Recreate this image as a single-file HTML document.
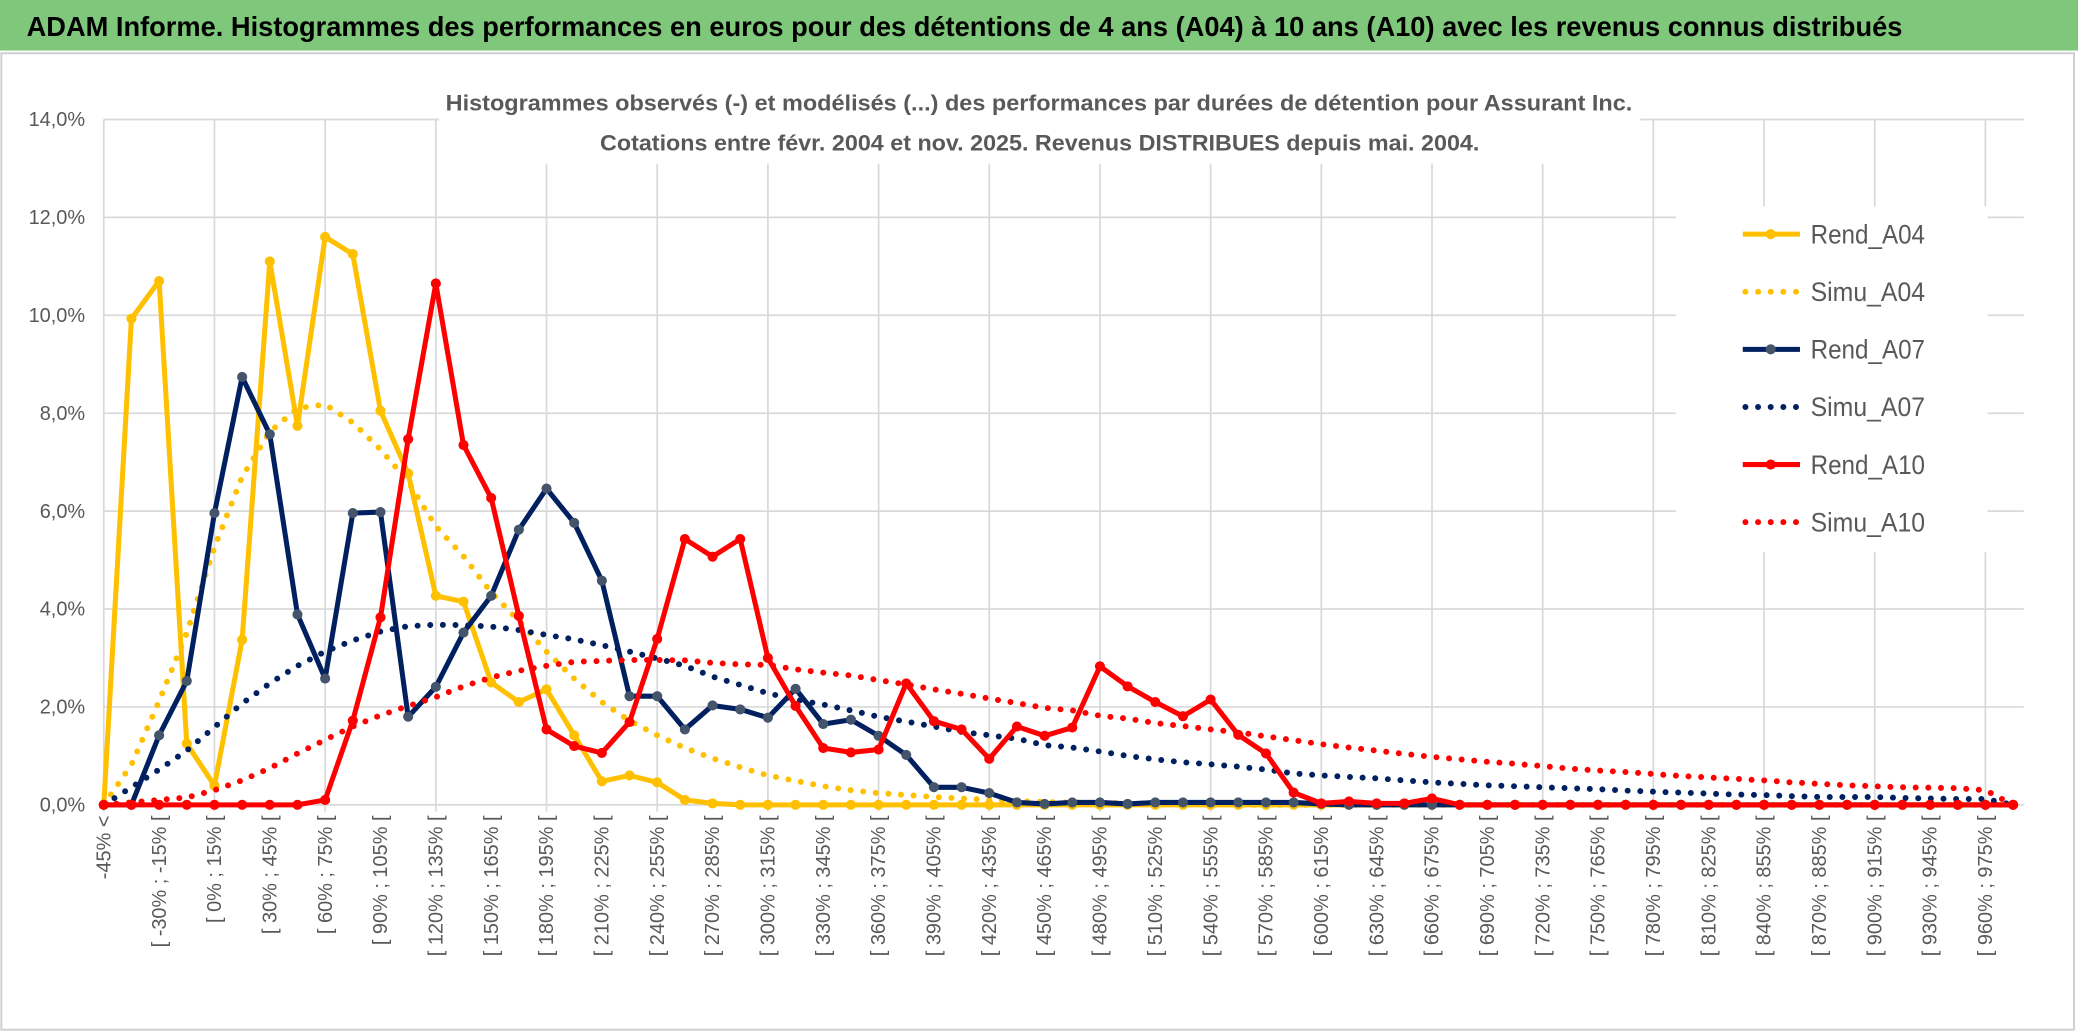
<!DOCTYPE html>
<html><head><meta charset="utf-8"><style>
html,body{margin:0;padding:0;background:#fff;}
svg{display:block;font-family:"Liberation Sans",sans-serif;}
</style></head><body>
<svg id="chart" width="2086" height="1033" viewBox="0 0 1568 776.5" preserveAspectRatio="none" xmlns="http://www.w3.org/2000/svg">
<rect x="0" y="0" width="1568" height="776.5" fill="#fff"/>
<rect x="0" y="0" width="1562" height="38" fill="#7ec77b"/>
<text x="20" y="27" font-size="21" font-weight="bold" fill="#000" textLength="1410" lengthAdjust="spacingAndGlyphs">ADAM Informe. Histogrammes des performances en euros pour des détentions de 4 ans (A04) à 10 ans (A10) avec les revenus connus distribués</text>
<rect x="1" y="40" width="1558" height="734" fill="none" stroke="#d0d0d0" stroke-width="1.5"/>
<g id="grid"></g>
<rect x="330" y="55" width="903" height="68" fill="#fff"/>
<text x="335" y="83" font-size="17" font-weight="bold" fill="#595959" textLength="892" lengthAdjust="spacingAndGlyphs">Histogrammes observés (-) et modélisés (...) des performances par durées de détention pour Assurant Inc.</text>
<text x="451" y="113" font-size="17" font-weight="bold" fill="#595959" textLength="661" lengthAdjust="spacingAndGlyphs">Cotations entre févr. 2004 et nov. 2025. Revenus DISTRIBUES depuis mai. 2004.</text>
<g id="yticks"></g>
<g id="xticks"></g>
<g id="series"></g>
<rect x="1260" y="155" width="234" height="260" fill="#fff"/>
<g id="legend"></g>
</svg>
<script>
const categories = ["-45% <","[ -45% ; -30% [","[ -30% ; -15% [","[ -15% ; 0% [","[ 0% ; 15% [","[ 15% ; 30% [","[ 30% ; 45% [","[ 45% ; 60% [","[ 60% ; 75% [","[ 75% ; 90% [","[ 90% ; 105% [","[ 105% ; 120% [","[ 120% ; 135% [","[ 135% ; 150% [","[ 150% ; 165% [","[ 165% ; 180% [","[ 180% ; 195% [","[ 195% ; 210% [","[ 210% ; 225% [","[ 225% ; 240% [","[ 240% ; 255% [","[ 255% ; 270% [","[ 270% ; 285% [","[ 285% ; 300% [","[ 300% ; 315% [","[ 315% ; 330% [","[ 330% ; 345% [","[ 345% ; 360% [","[ 360% ; 375% [","[ 375% ; 390% [","[ 390% ; 405% [","[ 405% ; 420% [","[ 420% ; 435% [","[ 435% ; 450% [","[ 450% ; 465% [","[ 465% ; 480% [","[ 480% ; 495% [","[ 495% ; 510% [","[ 510% ; 525% [","[ 525% ; 540% [","[ 540% ; 555% [","[ 555% ; 570% [","[ 570% ; 585% [","[ 585% ; 600% [","[ 600% ; 615% [","[ 615% ; 630% [","[ 630% ; 645% [","[ 645% ; 660% [","[ 660% ; 675% [","[ 675% ; 690% [","[ 690% ; 705% [","[ 705% ; 720% [","[ 720% ; 735% [","[ 735% ; 750% [","[ 750% ; 765% [","[ 765% ; 780% [","[ 780% ; 795% [","[ 795% ; 810% [","[ 810% ; 825% [","[ 825% ; 840% [","[ 840% ; 855% [","[ 855% ; 870% [","[ 870% ; 885% [","[ 885% ; 900% [","[ 900% ; 915% [","[ 915% ; 930% [","[ 930% ; 945% [","[ 945% ; 960% [","[ 960% ; 975% [","[ 975% ; 990% ["];
const yTickValues = [0,2,4,6,8,10,12,14];
const yTickLabels = ["0,0%","2,0%","4,0%","6,0%","8,0%","10,0%","12,0%","14,0%"];
const rendA04 = [0,9.93,10.7,1.25,0.39,3.37,11.1,7.74,11.6,11.25,8.05,6.77,4.27,4.15,2.5,2.1,2.36,1.42,0.48,0.6,0.46,0.1,0.03,0,0,0,0,0,0,0,0,0,0,0,0,0,0,0,0,0,0,0,0,0,0,0,0,0,0,0,0,0,0,0,0,0,0,0,0,0,0,0,0,0,0,0,0,0,0,0];
const simuA04 = [0,0.82,2.12,3.51,5.26,6.7,7.62,8.1,8.18,7.81,7.26,6.6,5.69,5.08,4.34,3.76,3.13,2.58,2.1,1.72,1.42,1.16,0.95,0.77,0.6,0.49,0.38,0.3,0.24,0.2,0.16,0.13,0.1,0.08,0.06,0.05,0.04,0.03,0.02,0.02,0.01,0,0,0,0,0,0,0,0,0,0,0,0,0,0,0,0,0,0,0,0,0,0,0,0,0,0,0,0,0];
const rendA07 = [0,0,1.42,2.53,5.96,8.74,7.57,3.89,2.58,5.96,5.98,1.8,2.41,3.52,4.27,5.62,6.46,5.76,4.58,2.22,2.22,1.54,2.03,1.95,1.78,2.37,1.65,1.74,1.41,1.02,0.36,0.36,0.24,0.05,0.02,0.05,0.05,0.02,0.05,0.05,0.05,0.05,0.05,0.05,0.02,0,0,0,0,0,0,0,0,0,0,0,0,0,0,0,0,0,0,0,0,0,0,0,0,0];
const simuA07 = [0,0.36,0.72,1.11,1.59,2.07,2.48,2.84,3.13,3.36,3.54,3.65,3.68,3.67,3.64,3.57,3.47,3.38,3.26,3.13,2.99,2.84,2.62,2.45,2.28,2.15,2.05,1.93,1.8,1.7,1.6,1.49,1.42,1.35,1.22,1.17,1.09,1.0,0.93,0.87,0.83,0.78,0.72,0.64,0.6,0.57,0.54,0.5,0.46,0.43,0.40,0.38,0.36,0.34,0.32,0.29,0.27,0.25,0.23,0.21,0.2,0.18,0.16,0.16,0.16,0.14,0.13,0.12,0.12,0];
const rendA10 = [0,0,0,0,0,0,0,0,0.1,1.72,3.83,7.47,10.65,7.35,6.27,3.86,1.54,1.2,1.06,1.69,3.39,5.43,5.07,5.43,3.0,2.02,1.16,1.07,1.13,2.48,1.71,1.54,0.94,1.6,1.41,1.58,2.83,2.42,2.1,1.81,2.15,1.43,1.05,0.25,0.03,0.07,0.03,0.03,0.13,0,0,0,0,0,0,0,0,0,0,0,0,0,0,0,0,0,0,0,0,0];
const simuA10 = [0,0.05,0.1,0.15,0.3,0.5,0.75,1.05,1.33,1.6,1.83,2.02,2.2,2.42,2.6,2.74,2.84,2.92,2.94,2.96,2.96,2.95,2.9,2.87,2.86,2.77,2.7,2.64,2.55,2.46,2.36,2.27,2.17,2.08,1.98,1.93,1.82,1.76,1.67,1.61,1.54,1.48,1.4,1.32,1.24,1.17,1.11,1.04,0.98,0.93,0.88,0.84,0.79,0.74,0.7,0.67,0.63,0.59,0.56,0.53,0.5,0.46,0.43,0.4,0.38,0.36,0.35,0.34,0.3,0];
const seriesNames = ["Rend_A04","Simu_A04","Rend_A07","Simu_A07","Rend_A10","Simu_A10"];

const NS = "http://www.w3.org/2000/svg";
const X0 = 78, DX = 20.8, Y0 = 605, PER = 36.8;
function xOf(i){ return X0 + DX * i; }
function yOf(v){ return Y0 - v * PER; }
function mk(tag, attrs, parent){
  const e = document.createElementNS(NS, tag);
  for (const k in attrs) e.setAttribute(k, attrs[k]);
  parent.appendChild(e);
  return e;
}
const grid = document.getElementById('grid');
const xEnd = xOf(categories.length - 1) + 8;
yTickValues.forEach(function(v){
  const l = mk('line', {x1: X0, x2: xEnd, y1: yOf(v), y2: yOf(v), stroke: '#d9d9d9', 'stroke-width': 1.3}, grid);
  
  
});
for (let i = 0; i < categories.length; i += 4) {
  const l = mk('line', {x1: xOf(i), x2: xOf(i), y1: yOf(14), y2: Y0 + 5, stroke: '#d9d9d9', 'stroke-width': 1.3}, grid);
  
  
}
const yt = document.getElementById('yticks');
yTickValues.forEach(function(v, k){
  const t = mk('text', {x: 64, y: yOf(v) + 5, 'text-anchor': 'end', 'font-size': 15, fill: '#595959'}, yt);
  t.textContent = yTickLabels[k];
  
  
});
const xt = document.getElementById('xticks');
categories.forEach(function(c, i){
  if (i % 2 !== 0) return;
  const x = xOf(i) + 5, y = 613;
  const t = mk('text', {x: x, y: y, 'text-anchor': 'end', 'font-size': 15, fill: '#595959', transform: 'rotate(-90 ' + x + ' ' + y + ')'}, xt);
  t.textContent = c;
  
  
});
const sg = document.getElementById('series');
function pts(arr){ return arr.map(function(v, i){ return xOf(i).toFixed(1) + ',' + yOf(v).toFixed(1); }).join(' '); }
function solid(arr, color, marker, name){
  const g = mk('g', {}, sg);
  
  
  mk('polyline', {points: pts(arr), fill: 'none', stroke: color, 'stroke-width': 3.8, 'stroke-linejoin': 'round'}, g);
  arr.forEach(function(v, i){
    const c = mk('circle', {cx: xOf(i), cy: yOf(v), r: 3.8, fill: marker}, g);
    
    
  });
}
function dotted(arr, color, name){
  const p = mk('polyline', {points: pts(arr), fill: 'none', stroke: color, 'stroke-width': 4.5, 'stroke-linecap': 'round', 'stroke-dasharray': '0 9.5'}, sg);
  
  
}
solid(rendA04, '#ffc000', '#ffc000', 'rend-a04-line');
dotted(simuA04, '#ffc000', 'simu-a04-line');
solid(rendA07, '#002060', '#44546a', 'rend-a07-line');
dotted(simuA07, '#002060', 'simu-a07-line');
solid(rendA10, '#ff0000', '#ff0000', 'rend-a10-line');
dotted(simuA10, '#ff0000', 'simu-a10-line');

const lg = document.getElementById('legend');
const legColors = ['#ffc000','#ffc000','#002060','#002060','#ff0000','#ff0000'];
const legMarkers = ['#ffc000','','#44546a','','#ff0000',''];
seriesNames.forEach(function(n, k){
  const y = 176 + k * 43.3;
  const g = mk('g', {}, lg);
  
  
  if (k % 2 === 0) {
    mk('line', {x1: 1310, x2: 1353, y1: y, y2: y, stroke: legColors[k], 'stroke-width': 3.8}, g);
    mk('circle', {cx: 1331, cy: y, r: 3.8, fill: legMarkers[k]}, g);
  } else {
    mk('line', {x1: 1312, x2: 1354, y1: y, y2: y, stroke: legColors[k], 'stroke-width': 4.5, 'stroke-linecap': 'round', 'stroke-dasharray': '0 9.5'}, g);
  }
  const t = mk('text', {x: 1361, y: y + 7, 'font-size': 20, fill: '#595959', textLength: 86, lengthAdjust: 'spacingAndGlyphs'}, g);
  t.textContent = n;
});
</script>
</body></html>
